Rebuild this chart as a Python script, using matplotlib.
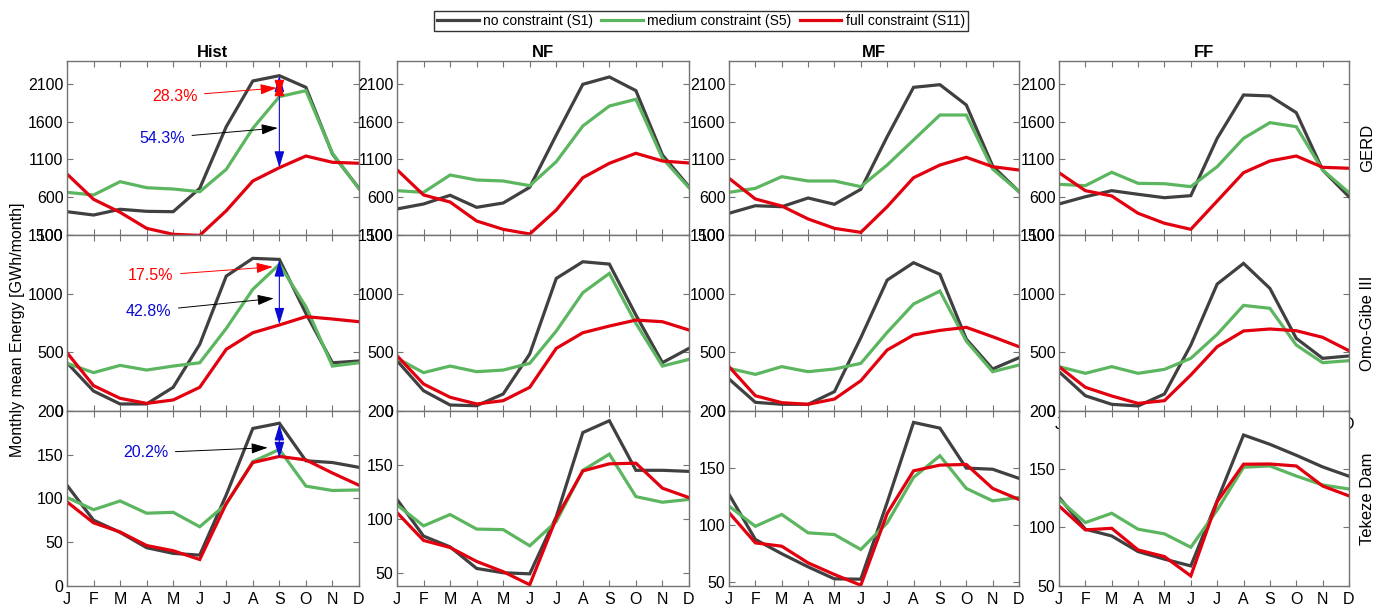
import numpy as np
import matplotlib
matplotlib.use("Agg")
import matplotlib.pyplot as plt

plt.rcParams["font.family"] = ["Liberation Sans", "DejaVu Sans"]

months = ["J", "F", "M", "A", "M", "J", "J", "A", "S", "O", "N", "D"]
periods = ["Hist", "NF", "MF", "FF"]
reservoirs = ["GERD", "Omo-Gibe III", "Tekeze Dam"]
scenarios = ["no constraint (S1)", "medium constraint (S5)", "full constraint (S11)"]

# GWh/month, one row per period (Hist, NF, MF, FF)
gerd_s1 = [
    [408, 364, 440, 413, 408, 717, 1532, 2136, 2206, 2052, 1171, 717],
    [444, 510, 625, 466, 523, 731, 1422, 2092, 2189, 2008, 1158, 739],
    [387, 487, 474, 589, 506, 704, 1400, 2052, 2087, 1819, 1012, 673],
    [510, 606, 686, 638, 593, 620, 1378, 1951, 1938, 1717, 959, 606],
]
gerd_s5 = [
    [664, 629, 805, 725, 708, 672, 968, 1510, 1929, 2008, 1180, 710],
    [686, 664, 893, 827, 814, 752, 1069, 1541, 1805, 1894, 1114, 725],
    [664, 717, 871, 814, 814, 739, 1025, 1356, 1686, 1686, 972, 673],
    [770, 752, 929, 783, 778, 739, 1003, 1378, 1585, 1532, 959, 659],
]
gerd_s11 = [
    [906, 572, 400, 188, 109, 95, 421, 814, 990, 1144, 1061, 1048],
    [963, 629, 536, 285, 175, 113, 430, 857, 1048, 1180, 1078, 1052],
    [850, 576, 483, 312, 188, 135, 474, 857, 1025, 1127, 1003, 959],
    [924, 686, 616, 387, 255, 175, 549, 924, 1078, 1144, 995, 982],
]
omo_s1 = [
    [411, 170, 60, 60, 202, 568, 1150, 1301, 1292, 832, 411, 426],
    [429, 173, 51, 45, 145, 486, 1130, 1272, 1252, 818, 412, 534],
    [273, 74, 57, 57, 165, 625, 1116, 1264, 1165, 613, 358, 454],
    [335, 130, 57, 43, 145, 562, 1082, 1258, 1045, 619, 449, 469],
]
omo_s5 = [
    [406, 327, 389, 349, 383, 411, 704, 1037, 1250, 889, 383, 411],
    [449, 327, 383, 335, 349, 406, 682, 1008, 1173, 747, 383, 440],
    [364, 312, 378, 335, 358, 406, 670, 912, 1022, 596, 335, 392],
    [378, 321, 378, 321, 355, 449, 653, 900, 875, 562, 412, 429],
]
omo_s11 = [
    [497, 216, 108, 65, 94, 202, 526, 667, 733, 804, 784, 761],
    [471, 230, 117, 60, 88, 202, 534, 667, 724, 775, 761, 690],
    [378, 130, 71, 57, 102, 258, 520, 648, 687, 713, 633, 548],
    [378, 202, 128, 65, 88, 307, 548, 682, 699, 684, 628, 514],
]
tekeze_s1 = [
    [115, 75, 61, 43.5, 37, 35, 104, 180, 186, 143, 141, 135.5],
    [118, 84, 74, 54, 50, 49, 102, 180, 191, 145, 145, 144],
    [127, 87.5, 75, 63.5, 53, 52.7, 120, 190, 185, 150, 149, 141],
    [126, 98.5, 92.7, 79.3, 72.8, 67, 123, 179.4, 171.4, 162, 152, 144],
]
tekeze_s5 = [
    [101, 87, 97, 83, 84, 67.5, 93.5, 142, 156, 114, 109, 109.6],
    [113, 93.5, 104, 90.5, 90, 75, 97.5, 145, 160, 120.6, 115.4, 118],
    [116.7, 99, 109.4, 93.3, 91.8, 78.7, 102, 141.8, 160.8, 132.2, 121.3, 124.3],
    [124.2, 104.2, 112.2, 98.5, 94.5, 83, 115, 151.7, 152.8, 144.2, 136.5, 133],
]
tekeze_s11 = [
    [96, 72, 61.5, 46, 40, 30, 94, 141, 148, 144, 129, 115],
    [105.8, 80, 73.4, 60.5, 51, 38.9, 100.6, 144.4, 151, 151.6, 128.4, 119.7],
    [111, 84.5, 81.6, 67, 56.8, 47.4, 110.3, 147.6, 152.6, 153.2, 132.2, 122.5],
    [118.5, 97.9, 99.3, 80.7, 75, 58.4, 122.2, 154.3, 154.5, 152.8, 135.6, 127.1],
]

series = [
    (gerd_s1, gerd_s5, gerd_s11),
    (omo_s1, omo_s5, omo_s11),
    (tekeze_s1, tekeze_s5, tekeze_s11),
]
colores = ["#404040", "#5cb660", "#e2000f"]

row_ylims = [[(100, 2400)] * 4, [(0, 1500)] * 4, [(0, 200), (38, 200), (47, 200), (50, 200)]]
row_yticks = [
    [[100, 600, 1100, 1600, 2100]] * 4,
    [[0, 500, 1000, 1500]] * 4,
    [[0, 50, 100, 150, 200]] + [[50, 100, 150, 200]] * 3,
]

W, H = 1386, 607
col_x = [(67, 359), (397, 689), (729, 1019), (1059, 1349)]
row_y = [(61, 235), (235, 411), (411, 585.7)]

fig = plt.figure(figsize=(W / 100, H / 100), dpi=100)
x = np.arange(1, 13)
eixos = {}
for r in range(3):
    for c in range(4):
        x0, x1 = col_x[c]
        y0, y1 = row_y[r]
        ax = fig.add_axes([x0 / W, 1 - y1 / H, (x1 - x0) / W, (y1 - y0) / H])
        for s in range(3):
            ax.plot(x, series[r][s][c], color=colores[s], lw=2.3, label=scenarios[s],
                    solid_joinstyle="miter")
        ax.set_xlim(1, 12)
        ax.set_ylim(*row_ylims[r][c])
        ax.set_yticks(row_yticks[r][c])
        ax.set_xticks(x)
        # só a última linha tem rótulos; o FF do meio "vaza" J e D por baixo do painel de baixo
        if r == 2 or (r == 1 and c == 3):
            ax.set_xticklabels(months)
        else:
            ax.set_xticklabels([])
        ax.tick_params(direction="in", length=4, width=0.8, color="0.45",
                       labelsize=11.5, top=True, right=True)
        ax.tick_params(axis="x", pad=4.5)
        ax.tick_params(axis="y", pad=2.5)
        for sp in ax.spines.values():
            sp.set_color("0.45")
            sp.set_linewidth(1.0)
        if r == 0:
            ax.set_title(periods[c], fontsize=12, fontweight="bold", pad=3)
        eixos[(r, c)] = ax


def seta_texto(ax, texto, cor_texto, cor_seta, xy, xytext):
    ax.annotate(texto, xy=xy, xytext=xytext, color=cor_texto, fontsize=11.5,
                ha="center", va="center",
                arrowprops=dict(arrowstyle="-|>,head_length=1.0,head_width=0.32",
                                color=cor_seta, lw=0.7, mutation_scale=10,
                                shrinkA=3, shrinkB=0))


def seta_dupla(ax, xpos, y_top, y_bot, cor):
    ax.annotate("", xy=(xpos, y_bot), xytext=(xpos, y_top),
                arrowprops=dict(arrowstyle="<|-|>,head_length=1.0,head_width=0.3",
                                color=cor, lw=0.8, mutation_scale=10,
                                shrinkA=0, shrinkB=0))


azul = "#0a0ad2"
ax = eixos[(0, 0)]
seta_dupla(ax, 9, 2206, 990, azul)
seta_dupla(ax, 9, 2150, 1935, "red")
seta_texto(ax, "28.3%", "red", "red", (8.9, 2043), (5.06, 1937))
seta_texto(ax, "54.3%", azul, "black", (8.94, 1515), (4.59, 1382))

ax = eixos[(1, 0)]
seta_dupla(ax, 9, 1285, 739, azul)
seta_texto(ax, "17.5%", "red", "red", (8.75, 1229), (4.16, 1153))
seta_texto(ax, "42.8%", azul, "black", (8.79, 960), (4.08, 852))

ax = eixos[(2, 0)]
seta_dupla(ax, 9, 185, 146, azul)
seta_texto(ax, "20.2%", azul, "black", (8.56, 158), (3.97, 152))

handles, labels = eixos[(0, 0)].get_legend_handles_labels()
fig.legend(handles, labels, loc="center", bbox_to_anchor=(701 / W, 1 - 21 / H),
           ncol=3, fontsize=10, frameon=True, fancybox=False, edgecolor="black",
           handlelength=3.0, handletextpad=0.3, columnspacing=0.6,
           borderpad=0.25, borderaxespad=0)

fig.text(18 / W, 1 - 330 / H, "Monthly mean Energy [GWh/month]", rotation=90,
         ha="center", va="center", fontsize=11.5)
for r, nome in enumerate(reservoirs):
    yc = (row_y[r][0] + row_y[r][1]) / 2
    fig.text(1368 / W, 1 - yc / H, nome, rotation=90, ha="center", va="center",
             fontsize=12)

fig.savefig("out.png", dpi=100)
